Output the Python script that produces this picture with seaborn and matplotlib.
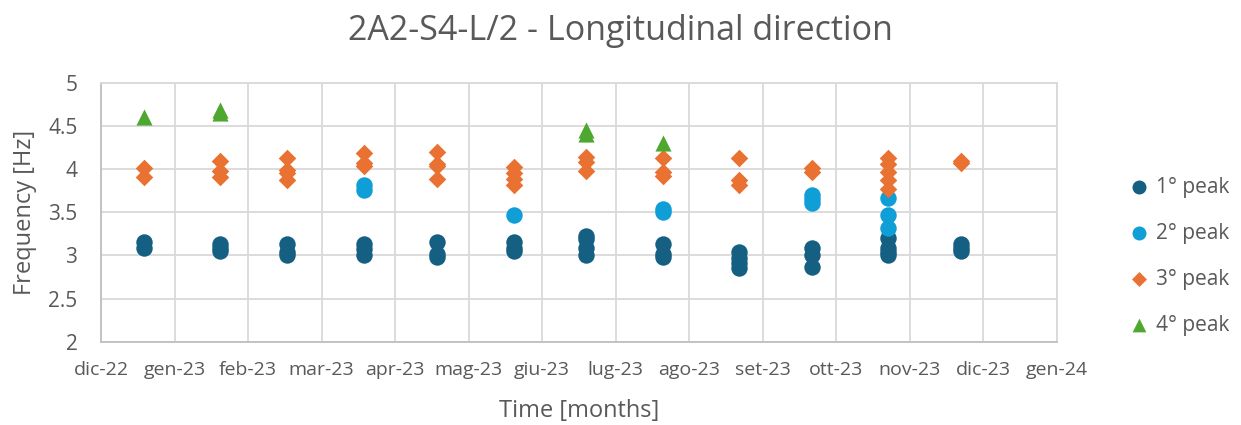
import calendar
import numpy as np
import pandas as pd
import matplotlib
matplotlib.use("Agg")
import matplotlib.pyplot as plt
import seaborn as sns

# ---------------- data ----------------
dates = ["2022-12-19", "2023-01-20", "2023-02-16", "2023-03-19", "2023-04-18",
         "2023-05-20", "2023-06-19", "2023-07-21", "2023-08-22", "2023-09-21",
         "2023-10-23", "2023-11-22"]

peak1 = [[3.16, 3.09], [3.13, 3.09, 3.05], [3.13, 3.04, 3.01], [3.13, 3.07, 3.01],
         [3.16, 3.02, 2.98], [3.16, 3.08, 3.05], [3.23, 3.19, 3.09, 3.01],
         [3.13, 3.02, 2.98], [3.04, 2.97, 2.91, 2.85], [3.08, 3.00, 2.87],
         [3.20, 3.08, 3.04, 3.00], [3.13, 3.08, 3.05]]
peak2 = [[], [], [], [3.82, 3.76], [], [3.47], [], [3.54, 3.50], [],
         [3.70, 3.65, 3.61], [3.66, 3.47, 3.32], []]
peak3 = [[4.01, 3.91], [4.09, 3.98, 3.91], [4.13, 3.99, 3.95, 3.87], [4.19, 4.07, 4.03],
         [4.20, 4.06, 4.03, 3.89], [4.02, 3.95, 3.89, 3.81], [4.14, 4.08, 3.98],
         [4.13, 3.97, 3.92], [4.13, 3.87, 3.81], [4.01, 3.96],
         [4.13, 4.06, 3.97, 3.87, 3.77], [4.09, 4.07]]
peak4 = [[4.60], [4.68, 4.65], [], [], [], [], [4.45, 4.41], [4.30], [], [], [], []]

series_names = ["1° peak", "2° peak", "3° peak", "4° peak"]
month_labels = ["dic-22", "gen-23", "feb-23", "mar-23", "apr-23", "mag-23", "giu-23",
                "lug-23", "ago-23", "set-23", "ott-23", "nov-23", "dic-23", "gen-24"]
y_ticks = [2, 2.5, 3, 3.5, 4, 4.5, 5]
y_tick_labels = ["2", "2.5", "3", "3.5", "4", "4.5", "5"]


def month_pos(d):
    t = pd.Timestamp(d)
    ndays = calendar.monthrange(t.year, t.month)[1]
    return (t.year - 2022) * 12 + t.month - 12 + (t.day - 1) / ndays


rows = []
for name, ser in zip(series_names, [peak1, peak2, peak3, peak4]):
    for d, vals in zip(dates, ser):
        for v in vals:
            rows.append({"series": name, "x": month_pos(d), "freq": v})
df = pd.DataFrame(rows)

# ---------------- style ----------------
sns.set_theme(style="white")
plt.rcParams["font.family"] = ["Open Sans", "DejaVu Sans"]
txt = "#595959"
grid_c = "#D9D9D9"

colors = {"1° peak": "#156082", "2° peak": "#0F9ED5", "3° peak": "#E97132", "4° peak": "#4EA72E"}
markers = {"1° peak": "o", "2° peak": "o", "3° peak": "D", "4° peak": "^"}
sizes = {"1° peak": 140, "2° peak": 140, "3° peak": 80, "4° peak": 135}

fig = plt.figure(figsize=(12.41, 4.25), dpi=100)
ax = fig.add_axes([0.0814, 0.196, 0.7700, 0.6094])

for name in series_names:
    sub = df[df["series"] == name]
    sns.scatterplot(data=sub, x="x", y="freq", ax=ax, color=colors[name],
                    marker=markers[name], s=sizes[name], linewidth=0,
                    label=name, zorder=3)

ax.set_xlim(0, 13)
ax.set_ylim(2, 5)
ax.set_xticks(np.arange(len(month_labels)))
ax.set_xticklabels(month_labels, fontsize=14, color=txt)
ax.set_yticks(y_ticks)
ax.set_yticklabels(y_tick_labels, fontsize=15, color=txt)
ax.tick_params(axis="both", length=0)
ax.tick_params(axis="x", pad=14)
ax.tick_params(axis="y", pad=17)

ax.grid(True, color=grid_c, linewidth=1.3, zorder=0)
ax.set_axisbelow(True)
for sp in ax.spines.values():
    sp.set_color(grid_c)
    sp.set_linewidth(1.3)
ax.spines["left"].set_color("#BFBFBF")
ax.spines["bottom"].set_color("#BFBFBF")

ax.set_xlabel("Time [months]", fontsize=17, color=txt, labelpad=14)
ax.set_ylabel("Frequency [Hz]", fontsize=17, color=txt, labelpad=8)
fig.suptitle("2A2-S4-L/2 - Longitudinal direction", fontsize=24.5, color=txt, y=0.968)

leg = ax.legend(loc="center left", bbox_to_anchor=(1.067, 0.33), frameon=False,
                fontsize=15, labelspacing=1.2, handlelength=1.0, handletextpad=0.3,
                borderpad=0.4, borderaxespad=0.0, markerscale=0.85)
for t in leg.get_texts():
    t.set_color(txt)

fig.savefig("out.png", dpi=100)
